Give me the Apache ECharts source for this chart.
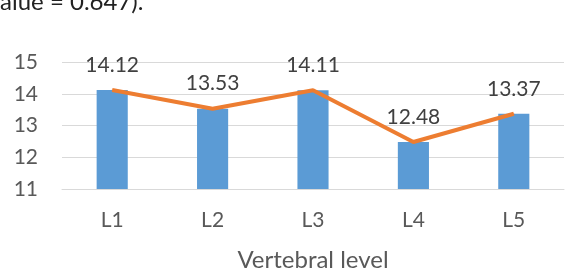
<!DOCTYPE html>
<html>
<head>
<meta charset="utf-8">
<script src="https://cdn.jsdelivr.net/npm/echarts@6/dist/echarts.min.js"></script>
<style>
  html, body { margin: 0; padding: 0; background: #fff; }
  #chart { width: 565px; height: 273px; }
</style>
</head>
<body>
<div id="chart"></div>
<script>
const levels = ["L1", "L2", "L3", "L4", "L5"];
const barValues = [14.12, 13.53, 14.11, 12.48, 13.37];
const lineValues = [14.12, 13.53, 14.11, 12.48, 13.37];
const yTicks = [11, 12, 13, 14, 15];

const font = "Lato, 'Open Sans', sans-serif";

const chart = echarts.init(document.getElementById("chart"), null, { renderer: "canvas" });

chart.setOption({
  animation: false,
  textStyle: { fontFamily: font },
  graphic: [{
    type: "text",
    left: -12,
    top: -10,
    style: { text: "value = 0.647).", font: "24px " + font, fill: "#222" }
  }],
  grid: { left: 62, right: 1, top: 62, bottom: 84 },
  xAxis: {
    type: "category",
    data: levels,
    name: "Vertebral level",
    nameLocation: "middle",
    nameGap: 59,
    nameTextStyle: { color: "#595959", fontSize: 24, fontFamily: font },
    axisLine: { lineStyle: { color: "#d9d9d9", width: 1 } },
    axisTick: { show: false },
    axisLabel: { color: "#595959", fontSize: 21, margin: 21, fontFamily: font }
  },
  yAxis: {
    type: "value",
    min: yTicks[0],
    max: yTicks[yTicks.length - 1],
    interval: 1,
    axisLine: { show: false },
    axisTick: { show: false },
    splitLine: { lineStyle: { color: "#d9d9d9", width: 1 } },
    axisLabel: { color: "#595959", fontSize: 21, margin: 24, fontFamily: font }
  },
  series: [
    {
      type: "bar",
      data: barValues,
      barWidth: "31%",
      itemStyle: { color: "#5b9bd5" }
    },
    {
      type: "line",
      data: lineValues,
      symbol: "circle",
      symbolSize: 1,
      lineStyle: { color: "#ed7d31", width: 4 },
      itemStyle: { color: "#ed7d31" },
      label: {
        show: true,
        position: "top",
        distance: 14,
        color: "#404040",
        fontSize: 21,
        fontFamily: font,
        formatter: p => p.value.toFixed(2)
      }
    }
  ]
});
</script>
</body>
</html>
